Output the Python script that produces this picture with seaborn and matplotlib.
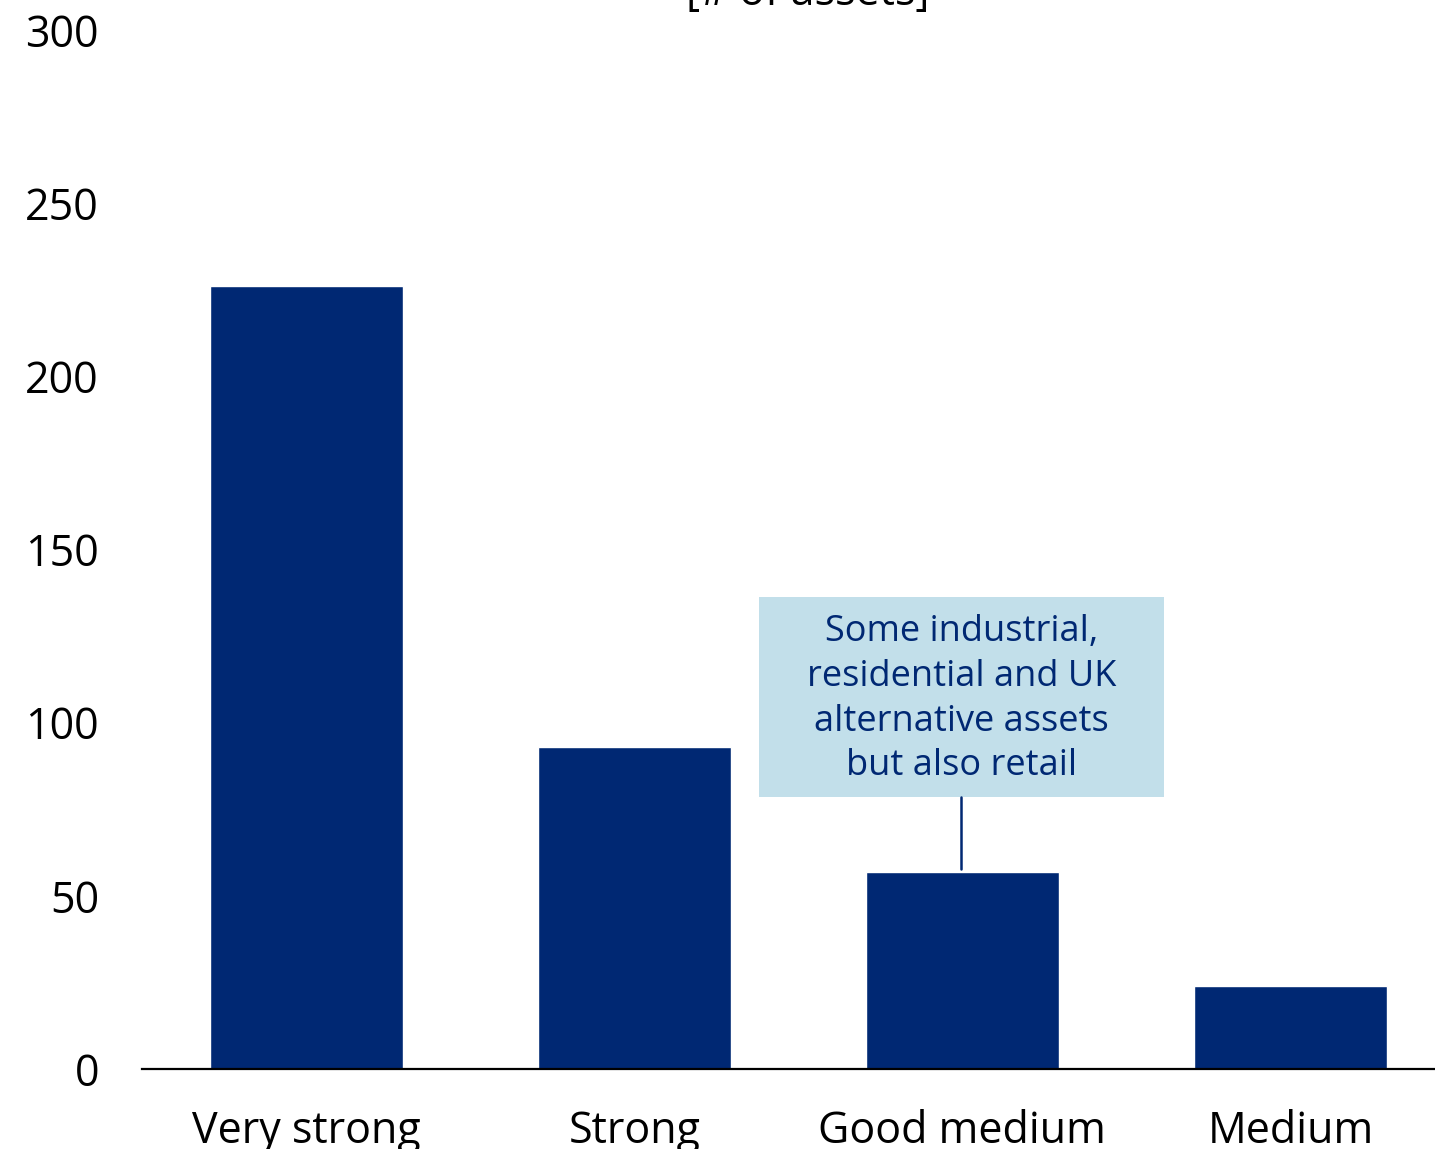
import matplotlib
matplotlib.use("Agg")
import matplotlib.pyplot as plt
import seaborn as sns
import pandas as pd
from matplotlib.patches import Rectangle

categories = ["Very strong", "Strong", "Good medium", "Medium"]
values = [226, 93, 57, 24]
yticks = [0, 50, 100, 150, 200, 250, 300]
title = "[# of assets]"
note = "Some industrial,\nresidential and UK\nalternative assets\nbut also retail"

sns.set_theme(style="white")
plt.rcParams['font.family'] = ['Open Sans', 'DejaVu Sans']

navy = "#002873"
df = pd.DataFrame({"cat": categories, "val": values})

fig = plt.figure(figsize=(14.35, 11.49), dpi=100)
ax = fig.add_axes([142/1435, 80/1149, (1435-142)/1435, (1069-30)/1149])
sns.barplot(data=df, x="cat", y="val", color=navy, width=0.588, saturation=1, ax=ax)

ax.set_xlim(-0.5, 3.44)
ax.set_ylim(0, 300)
ax.set_yticks(yticks)
ax.set_yticklabels([str(t) for t in yticks], fontsize=31, color="black")
ax.tick_params(axis="x", labelsize=31, colors="black", pad=29, length=0)
ax.tick_params(axis="y", pad=31, length=0)
ax.set_xlabel("")
ax.set_ylabel("")
for s in ["top", "right", "left"]:
    ax.spines[s].set_visible(False)
ax.spines["bottom"].set_color("black")
ax.spines["bottom"].set_linewidth(1.6)

# annotation box
ax.add_patch(Rectangle((1.38, 78.5), 2.614 - 1.38, 136.3 - 78.5, facecolor="#c2dfea",
                       edgecolor="none", zorder=3, clip_on=False))
ax.text(1.997, 106.8, note, ha="center", va="center", fontsize=26, color=navy,
        linespacing=1.33, zorder=4)
ax.plot([1.997, 1.997], [57.8, 78.5], color=navy, lw=1.8, zorder=4)

fig.text(808/1435, 1 - 5/1149, title, ha="center", va="baseline", fontsize=31, color="black")

fig.savefig("out.png", dpi=100)
